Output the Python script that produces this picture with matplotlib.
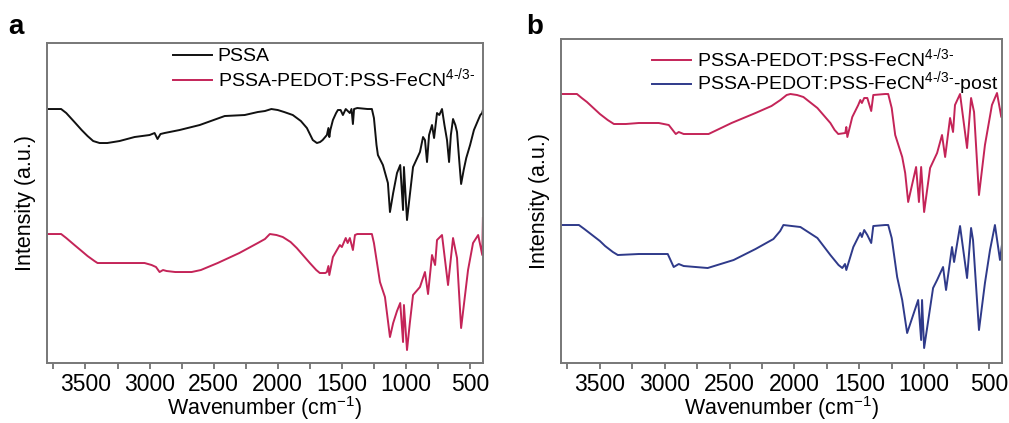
import numpy as np
import matplotlib
matplotlib.use("Agg")
import matplotlib.pyplot as plt

plt.rcParams['font.family'] = ['Liberation Sans', 'DejaVu Sans']
plt.rcParams['mathtext.fontset'] = 'custom'
plt.rcParams['mathtext.rm'] = 'Liberation Sans'

# FTIR spectra, wavenumber (cm-1) vs intensity (a.u., offset traces)
wn_pssa = [3800, 3690, 3650, 3586, 3530, 3484, 3440, 3390, 3330, 3234, 3117, 3000,
           2961, 2938, 2915, 2883, 2766, 2609, 2414, 2258, 2156, 2100, 2050, 2000,
           1950, 1883, 1820, 1773, 1727, 1695, 1670, 1650, 1617, 1605, 1598, 1590,
           1570, 1545, 1531, 1510, 1492, 1470, 1438, 1425, 1414, 1405, 1380, 1300,
           1266, 1250, 1230, 1219, 1180, 1141, 1125, 1100, 1070, 1045, 1023, 1016,
           992, 970, 945, 891, 867, 852, 836, 820, 797, 781, 758, 740, 719, 700,
           680, 664, 650, 633, 615, 602, 585, 570, 550, 530, 500, 470, 437, 420,
           406, 400]
int_pssa = [254, 254, 250, 241, 233, 227, 222, 220, 220, 222, 226, 228,
            230, 224, 229, 230, 233, 238, 247, 248, 251, 252, 254, 253,
            251, 248, 242, 235, 223, 220, 221, 223, 228, 235, 226, 233,
            243, 250, 253, 253, 248, 254, 250, 254, 239, 254, 255, 254,
            254, 245, 218, 208, 198, 180, 151, 170, 190, 198, 153, 196,
            143, 168, 196, 211, 226, 223, 201, 228, 238, 225, 250, 248, 254, 238,
            223, 201, 228, 244, 238, 231, 203, 179, 193, 205, 218, 233, 243, 248,
            250, 253]

wn_fecn = [3800, 3690, 3650, 3586, 3530, 3484, 3430, 3406, 3300, 3200, 3039, 2984,
           2950, 2922, 2895, 2867, 2800, 2672, 2600, 2469, 2300, 2156, 2100, 2062,
           2010, 1961, 1900, 1852, 1750, 1700, 1672, 1630, 1617, 1605, 1598, 1570,
           1516, 1500, 1470, 1455, 1438, 1414, 1398, 1380, 1300, 1266, 1250, 1203,
           1164, 1125, 1100, 1070, 1045, 1023, 1016, 992, 970, 945, 891, 852, 828,
           797, 773, 758, 719, 672, 633, 602, 570, 516, 477, 437, 405, 400]
int_fecn = [129, 129, 125, 118, 112, 107, 102, 100, 100, 100, 100, 98,
            96, 91, 93, 92, 91, 91, 93, 100, 110, 120, 124, 129,
            128, 126, 121, 115, 100, 93, 90, 90, 91, 97, 88, 106,
            118, 116, 125, 120, 125, 113, 128, 129, 129, 129, 120, 81,
            66, 26, 40, 52, 60, 21, 58, 13, 40, 68, 76, 91, 69,
            108, 98, 123, 128, 78, 125, 105, 35, 93, 120, 128, 108, 145]

wn_b_fecn = [3800, 3677, 3640, 3600, 3550, 3500, 3440, 3392, 3300, 3200, 3046, 2969,
             2915, 2892, 2854, 2662, 2485, 2300, 2177, 2108, 2060, 2031, 1980, 1931,
             1823, 1723, 1690, 1662, 1608, 1600, 1592, 1554, 1508, 1492, 1480, 1462,
             1438, 1408, 1392, 1300, 1277, 1250, 1223, 1169, 1146, 1123, 1062, 1040,
             1023, 1000, 954, 900, 862, 838, 800, 777, 762, 723, 669, 638, 615, 577,
             531, 477, 438, 405, 400]
int_b_fecn = [269, 269, 265, 261, 255, 249, 243, 239, 239, 240, 240, 238,
              229, 231, 229, 229, 240, 250, 257, 263, 268, 269, 268, 266,
              255, 240, 233, 229, 230, 236, 226, 246, 258, 263, 260, 265,
              265, 252, 268, 269, 269, 255, 228, 206, 190, 161, 196, 161,
              196, 151, 195, 210, 228, 206, 245, 231, 258, 269, 215, 265, 251, 168,
              218, 258, 270, 246, 255]

wn_post = [3800, 3662, 3620, 3550, 3500, 3460, 3400, 3362, 3200, 2977, 2931, 2892,
           2854, 2669, 2469, 2300, 2162, 2110, 2085, 2020, 1954, 1823, 1723, 1660,
           1631, 1610, 1600, 1546, 1492, 1480, 1462, 1438, 1408, 1392, 1300, 1277,
           1250, 1208, 1169, 1131, 1046, 1023, 1016, 1000, 931, 900, 854, 831, 785,
           769, 723, 669, 638, 623, 577, 531, 492, 454, 415, 400]
int_post = [138, 138, 134, 127, 122, 117, 111, 108, 109, 109, 96, 99,
            97, 95, 103, 114, 124, 132, 138, 137, 136, 125, 108, 98,
            95, 99, 93, 116, 130, 126, 133, 128, 120, 137, 138, 138,
            125, 86, 63, 30, 63, 23, 63, 15, 75, 83, 96, 73, 116,
            101, 137, 85, 135, 123, 33, 80, 113, 138, 103, 118]

lbl_pssa = 'PSSA'
lbl_fecn = r'PSSA-PEDOT:PSS-FeCN$^{\text{4-/3-}}$'
lbl_post = r'PSSA-PEDOT:PSS-FeCN$^{\text{4-/3-}}$-post'

c_black = '#111111'
c_red = '#C42458'
c_blue = '#2F3A8A'

fig = plt.figure(figsize=(10.09, 4.23), dpi=100)
ax1 = fig.add_axes([0.0466, 0.1418, 0.432, 0.7565])
ax2 = fig.add_axes([0.556, 0.1418, 0.437, 0.766])

ax1.plot(wn_pssa, int_pssa, color=c_black, lw=1.4, label=lbl_pssa)
ax1.plot(wn_fecn, int_fecn, color=c_red, lw=1.4, label=lbl_fecn)
ax2.plot(wn_b_fecn, int_b_fecn, color=c_red, lw=1.4, label=lbl_fecn)
ax2.plot(wn_post, int_post, color=c_blue, lw=1.4, label=lbl_post)

ax1.set_ylim(0, 320)
ax2.set_ylim(0, 324)

for ax in (ax1, ax2):
    ax.set_xlim(3800, 400)
    ax.set_xticks([3500, 3000, 2500, 2000, 1500, 1000, 500])
    ax.set_xticks(np.arange(3750, 399, -500), minor=True)
    ax.set_yticks([])
    ax.tick_params(axis='x', which='both', direction='out', length=4, width=1.2,
                   color='#666666', labelsize=16.5, pad=3)
    for s in ax.spines.values():
        s.set_color('#777777')
        s.set_linewidth(1.4)
    ax.set_xlabel(r'Wavenumber (cm$^{\mathregular{-1}}$)', fontsize=15.5, labelpad=-1)
    ax.set_ylabel('Intensity (a.u.)', fontsize=15.5, labelpad=8)

ax1.legend(loc='upper left', bbox_to_anchor=(0.289, 0.985), frameon=False,
           fontsize=14, handlelength=2.0, handletextpad=0.3, labelspacing=0.05,
           borderpad=0, borderaxespad=0)
ax2.legend(loc='upper left', bbox_to_anchor=(0.206, 0.978), frameon=False,
           fontsize=14, handlelength=2.0, handletextpad=0.3, labelspacing=-0.05,
           borderpad=0, borderaxespad=0)

fig.text(0.008, 0.935, 'a', fontsize=20, fontweight='bold', ha='left', va='center')
fig.text(0.522, 0.935, 'b', fontsize=20, fontweight='bold', ha='left', va='center')

fig.savefig('out.png', dpi=100)
